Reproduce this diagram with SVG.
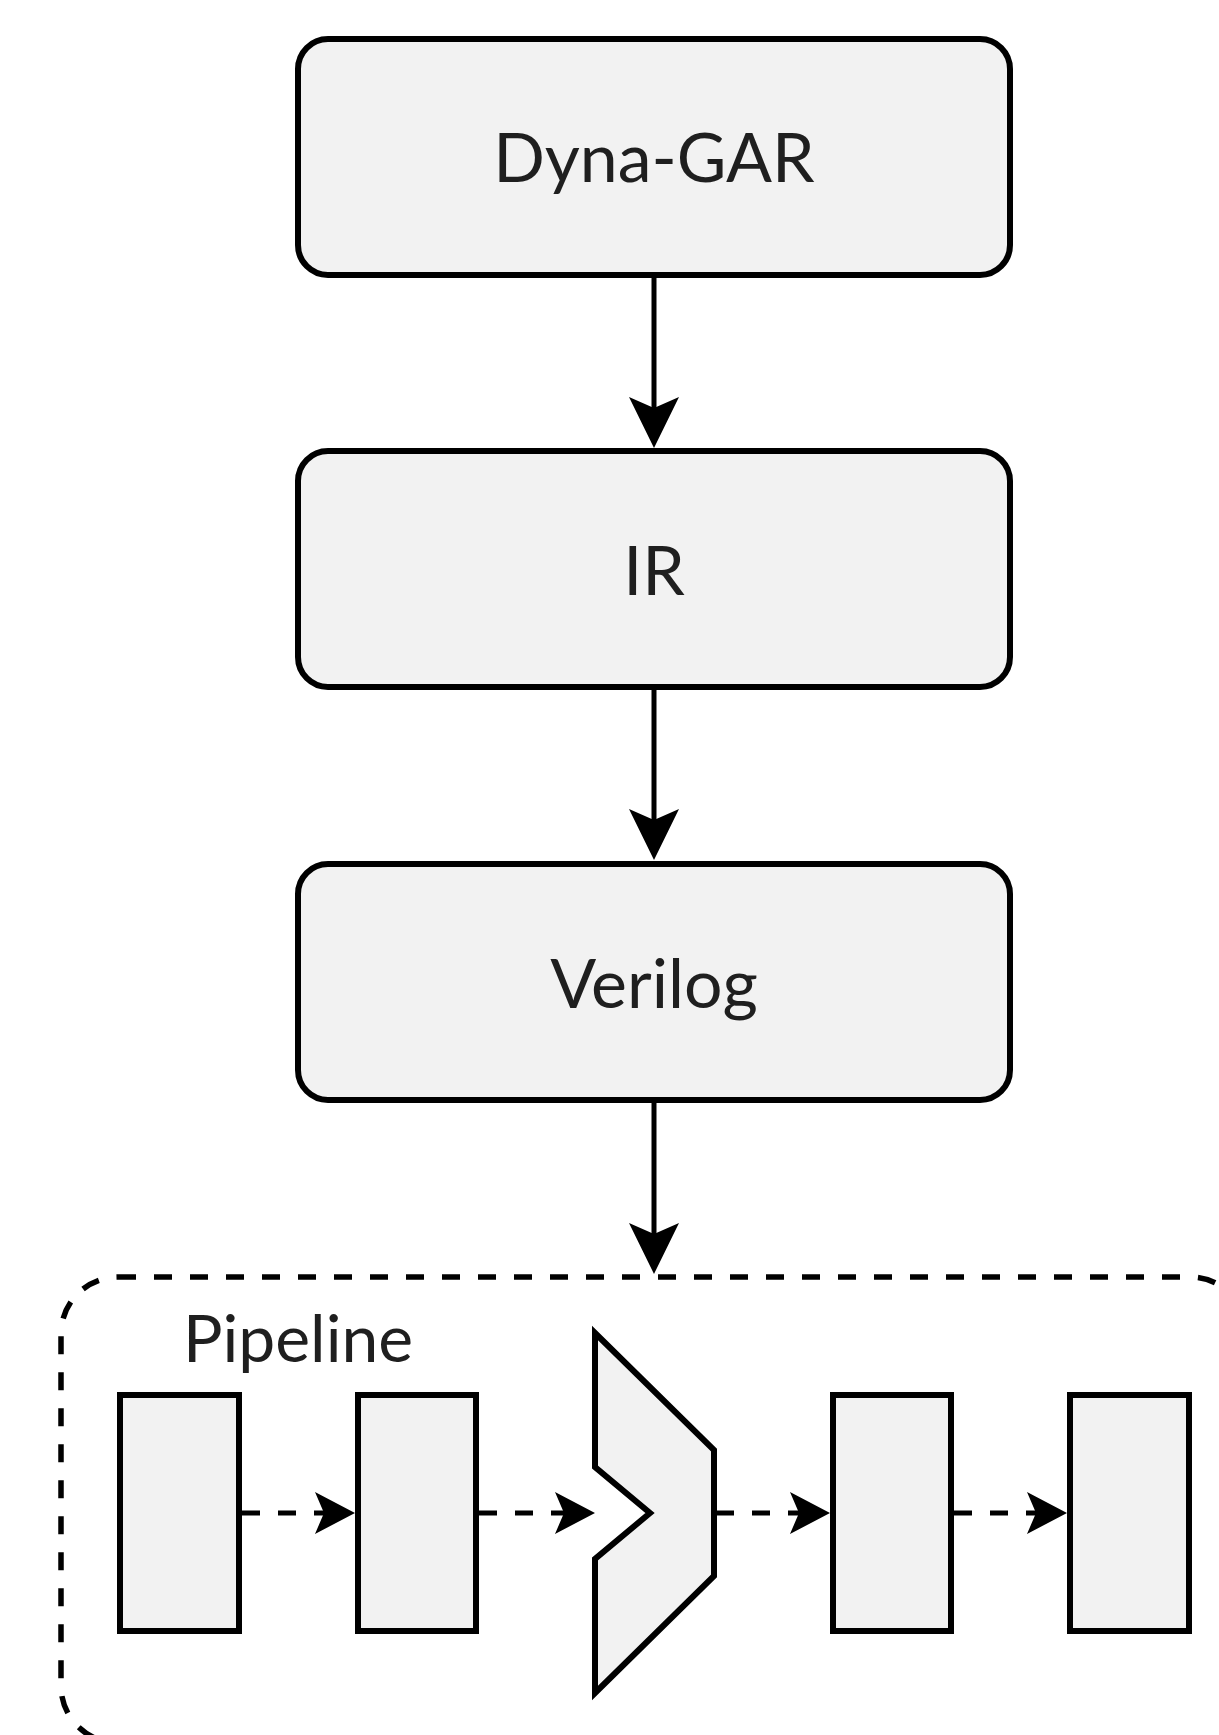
<svg xmlns="http://www.w3.org/2000/svg" width="1219" height="1735" viewBox="0 0 1219 1735">
  <style>
    .box { fill: #f2f2f2; stroke: #000; stroke-width: 6; }
    .label { font-family: Lato, "Liberation Sans", sans-serif; font-size: 68px; fill: #1f1f1f; text-anchor: middle; }
    .title { font-family: Lato, "Liberation Sans", sans-serif; font-size: 66px; fill: #1f1f1f; }
    .edge { fill: none; stroke: #000; stroke-width: 5; }
    .dashed { stroke-dasharray: 18 18; }
    .container { fill: none; stroke: #000; stroke-width: 5.5; stroke-dasharray: 18 18; }
  </style>
  <defs>
    <marker id="arrowV" markerUnits="userSpaceOnUse" viewBox="-52 -26 52 52" markerWidth="52" markerHeight="52" refX="-40" refY="0" orient="auto">
      <path d="M0,0 L-51,-25 L-40,0 L-51,25 Z" fill="#000"/>
    </marker>
    <marker id="arrowH" markerUnits="userSpaceOnUse" viewBox="-41 -22 41 44" markerWidth="41" markerHeight="44" refX="-31" refY="0" orient="auto">
      <path d="M0,0 L-40,-21 L-31,0 L-40,21 Z" fill="#000"/>
    </marker>
  </defs>

  <rect width="1219" height="1735" fill="#ffffff"/>

  <g id="pipeline-container">
    <rect class="container" x="61" y="1277" width="1186" height="466" rx="57" ry="57"/>
    <text class="title" x="183" y="1362">Pipeline</text>
  </g>

  <g id="node-dyna-gar">
    <rect class="box" x="298" y="39" width="712" height="236" rx="30" ry="30"/>
    <text class="label" x="654" y="182">Dyna-GAR</text>
  </g>
  <g id="node-ir">
    <rect class="box" x="298" y="451" width="712" height="236" rx="30" ry="30"/>
    <text class="label" x="654" y="595">IR</text>
  </g>
  <g id="node-verilog">
    <rect class="box" x="298" y="864" width="712" height="236" rx="30" ry="30"/>
    <text class="label" x="654" y="1008">Verilog</text>
  </g>

  <g id="stage-1"><rect class="box" x="120" y="1395" width="119" height="236"/></g>
  <g id="stage-2"><rect class="box" x="358" y="1395" width="118" height="236"/></g>
  <g id="mux">
    <polygon class="box" stroke-width="5" stroke-linejoin="miter" points="595,1333 714,1450 714,1576 595,1693 595,1559 650,1513 595,1467"/>
  </g>
  <g id="stage-3"><rect class="box" x="833" y="1395" width="118" height="236"/></g>
  <g id="stage-4"><rect class="box" x="1070" y="1395" width="119" height="236"/></g>

  <g id="connectors">
    <path class="edge" d="M654,278 L654,408" marker-end="url(#arrowV)"/>
    <path class="edge" d="M654,690 L654,820" marker-end="url(#arrowV)"/>
    <path class="edge" d="M654,1103 L654,1234" marker-end="url(#arrowV)"/>
    <path class="edge dashed" d="M242,1513 L324,1513" marker-end="url(#arrowH)"/>
    <path class="edge dashed" d="M479,1513 L564,1513" marker-end="url(#arrowH)"/>
    <path class="edge dashed" d="M716,1513 L799,1513" marker-end="url(#arrowH)"/>
    <path class="edge dashed" d="M954,1513 L1036,1513" marker-end="url(#arrowH)"/>
  </g>
</svg>
